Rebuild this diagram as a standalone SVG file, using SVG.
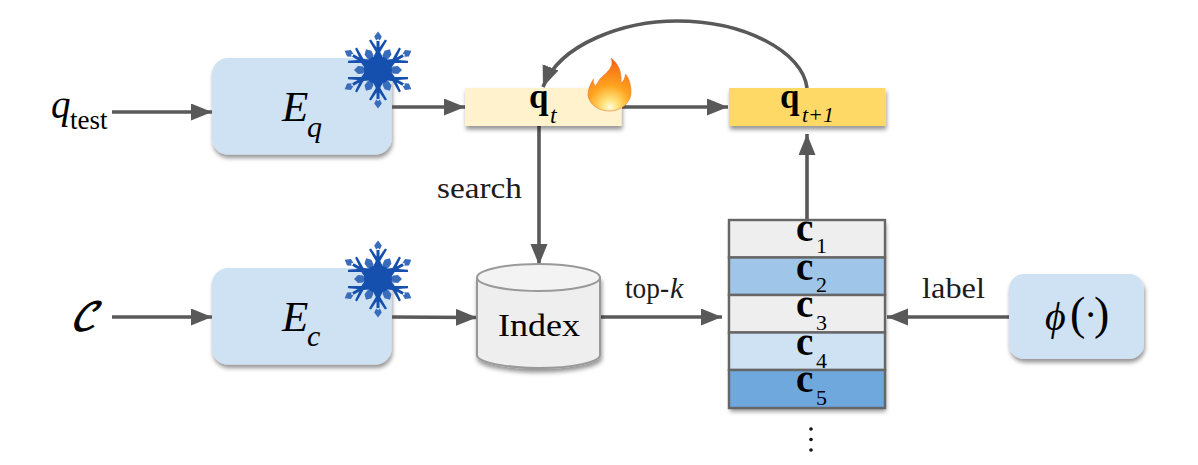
<svg xmlns="http://www.w3.org/2000/svg" width="1198" height="465" viewBox="0 0 1198 465">
<style>
text{font-family:"Liberation Serif","Times New Roman",serif;fill:#000}
.i{font-style:italic}
.b{font-weight:bold}
.lbl{fill:#1c1c1c;font-size:30px}
.box{fill:#cfe2f3;filter:url(#sh)}
.row{stroke:#666;stroke-width:2.4}
.con{fill:none;stroke:#595959;stroke-width:3.6;marker-end:url(#ah)}
.ice{fill:#1550ae}
.leaf{fill:#3a6cbc}
</style>
<defs>
<filter id="sh" x="-15%" y="-15%" width="130%" height="135%"><feDropShadow dx="1" dy="3.5" stdDeviation="2.2" flood-color="#000" flood-opacity="0.42"/></filter>
<marker id="ah" markerUnits="userSpaceOnUse" markerWidth="24" markerHeight="18" refX="21" refY="8.500" orient="auto"><path d="M0 0L21 8.500L0 17Z" fill="#595959"/></marker>
<radialGradient id="fl" gradientUnits="userSpaceOnUse" cx="610" cy="107" r="48">
<stop offset="0" stop-color="#fffbe0"/><stop offset=".16" stop-color="#ffe27a"/><stop offset=".45" stop-color="#ffa41e"/><stop offset=".85" stop-color="#f77417"/><stop offset="1" stop-color="#ea5a1c"/>
</radialGradient>
<g id="arm">
<path class="ice" d="M-7-8L-2.200-18L-9-29.500L-7-30.500L-1.500-22.500L-1.500-29L1.500-29L1.500-22.500L7-30.500L9-29.500L2.200-18L7-8Z"/>
<path class="leaf" d="M0-38.500L3.800-33.500L1.800-29.500L0-31L-1.800-29.500L-3.800-33.500Z"/>
</g>
<g id="mid">
<path class="leaf" d="M0-24L4-20L3.400-15L0-12L-3.400-15L-4-20Z"/>
</g>
<g id="flake">
<use href="#mid" transform="rotate(30)"/><use href="#mid" transform="rotate(90)"/><use href="#mid" transform="rotate(150)"/><use href="#mid" transform="rotate(210)"/><use href="#mid" transform="rotate(270)"/><use href="#mid" transform="rotate(330)"/>
<use href="#arm"/><use href="#arm" transform="rotate(60)"/><use href="#arm" transform="rotate(120)"/><use href="#arm" transform="rotate(180)"/><use href="#arm" transform="rotate(240)"/><use href="#arm" transform="rotate(300)"/>
<circle class="ice" r="14"/>
</g>
</defs>

<g id="n-qtest"><text x="51" y="118" class="i" font-size="39">q</text><text x="70" y="129" font-size="27">test</text></g>
<g id="n-C"><text x="70" y="330" class="i" font-size="38" stroke="#000" stroke-width=".9" style="font-family:'DejaVu Math TeX Gyre','DejaVu Serif',serif">𝒞</text></g>

<g id="n-Eq"><rect class="box" x="212" y="58" width="179.500" height="96.500" rx="16"/>
<text x="282" y="121" class="i" font-size="43">E</text><text x="307" y="137" class="i" font-size="30">q</text></g>
<g id="n-Ec"><rect class="box" x="212" y="268" width="179.500" height="96.500" rx="16"/>
<text x="282" y="331" class="i" font-size="43">E</text><text x="307" y="346" class="i" font-size="30">c</text></g>

<g id="connectors">
<path class="con" d="M112 112H212"/>
<path class="con" d="M392 107H465"/>
<path class="con" d="M622 107H728"/>
<path class="con" d="M807 88C803 52 745 21 677 21C625 21 560 43 543 87"/>
<path class="con" d="M539 126V265"/>
<path class="con" d="M807 220V134"/>
<path class="con" d="M112 317H212"/>
<path class="con" d="M392 317L477 317.500"/>
<path class="con" d="M601 317H722"/>
<path class="con" d="M1009 317H887"/>
</g>

<g id="n-qt"><rect x="465" y="88" width="156.500" height="38" fill="#fff2cc" filter="url(#sh)"/>
<text x="529" y="108" class="b" font-size="35">q</text><text x="550" y="123" class="i" font-size="24">t</text></g>
<g id="n-qt1"><rect x="729" y="88" width="156.500" height="38" fill="#ffd966" filter="url(#sh)"/>
<text x="780" y="108" class="b" font-size="35">q</text><text x="802" y="122" class="i" font-size="22">t+1</text></g>

<g id="n-flake-q"><use href="#flake" transform="translate(378 70)"/></g>
<g id="n-flake-c"><use href="#flake" transform="translate(378 279)"/></g>
<g id="n-flame"><path fill="url(#fl)" stroke="#ec7a30" stroke-width=".6" d="M611 58C615 67 606 73 600 79C597 83 596 87 594.500 85C593.500 83 593 81 593.500 79C590 84 588 90 588 95C589 104 598 111 609.500 111C621 111 631 103 631 92C631 85 629 78 625.500 74C625 78 624 81 621 83C622 73 619 64 611 58Z"/></g>

<g id="n-index">
<path d="M477 277.500V355C477 362 505 368 538.500 368S600 362 600 355V277.500Z" fill="#eeeeee" stroke="#999" stroke-width="2" filter="url(#sh)"/>
<ellipse cx="538.500" cy="277.500" rx="61.500" ry="13.500" fill="#f3f3f3" stroke="#999" stroke-width="2"/>
<text x="498" y="336" font-size="32" textLength="82" lengthAdjust="spacingAndGlyphs">Index</text>
</g>

<g id="n-stack">
<rect x="729" y="220" width="156" height="188" fill="#666" filter="url(#sh)"/>
<rect class="row" x="729" y="220" width="156" height="37.500" fill="#eeeeee"/>
<rect class="row" x="729" y="257.500" width="156" height="37.500" fill="#9fc5e8"/>
<rect class="row" x="729" y="295" width="156" height="37.500" fill="#eeeeee"/>
<rect class="row" x="729" y="332.500" width="156" height="37.500" fill="#cfe2f3"/>
<rect class="row" x="729" y="370" width="156" height="38" fill="#6fa8dc"/>
<g font-size="39" class="b"><text x="796" y="241">c</text><text x="796" y="279.500">c</text><text x="796" y="317">c</text><text x="796" y="355">c</text><text x="796" y="392">c</text></g>
<g font-size="22"><text x="816" y="253">1</text><text x="816" y="292">2</text><text x="816" y="330">3</text><text x="816" y="368">4</text><text x="816" y="405">5</text></g>
</g>
<g id="n-dots" fill="#111"><circle cx="811" cy="429" r="1.800"/><circle cx="811" cy="439.500" r="1.800"/><circle cx="811" cy="450" r="1.800"/></g>

<g id="n-phi"><rect class="box" x="1009" y="274" width="135" height="85" rx="15"/>
<text x="1045" y="330" font-size="46"><tspan class="i" font-size="40">ϕ</tspan><tspan x="1070" y="329">(</tspan><tspan x="1084" y="328" font-size="40">·</tspan><tspan x="1094" y="329">)</tspan></text></g>

<g id="labels">
<text class="lbl" x="437" y="198" textLength="85" lengthAdjust="spacingAndGlyphs">search</text>
<text class="lbl" x="625" y="298" textLength="44" lengthAdjust="spacingAndGlyphs" style="font-size:29px">top-</text>
<text class="lbl i" x="670" y="298" style="font-size:30px">k</text>
<text class="lbl" x="922" y="298" textLength="63" lengthAdjust="spacingAndGlyphs" style="font-size:30px">label</text>
</g>
</svg>
